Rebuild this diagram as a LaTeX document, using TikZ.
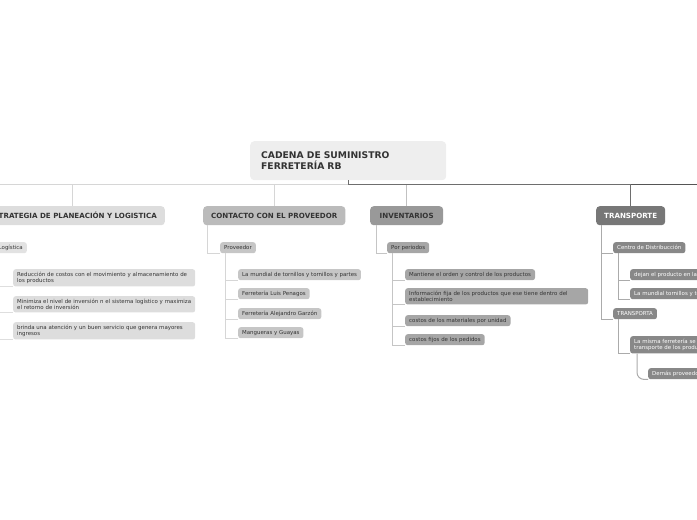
\documentclass[tikz,border=0pt]{standalone}
\usepackage{fontspec}
\setmainfont{DejaVu Sans}
\definecolor{ink}{HTML}{333333}
\definecolor{rootfill}{HTML}{EEEEEE}
\definecolor{estfill}{HTML}{DDDDDD}
\definecolor{estsub}{HTML}{E2E2E2}
\definecolor{confill}{HTML}{BBBBBB}
\definecolor{consub}{HTML}{C6C6C6}
\definecolor{invfill}{HTML}{999999}
\definecolor{invsub}{HTML}{A6A6A6}
\definecolor{trafill}{HTML}{777777}
\definecolor{trasub}{HTML}{888888}
\definecolor{lightline}{HTML}{D6D6D6}
\definecolor{darkline}{HTML}{555555}
\begin{document}
\begin{tikzpicture}[x=1pt, y=-1pt,
  box/.style = {rounded corners=2.5pt, inner xsep=4pt, inner ysep=2.6pt, align=left, text=ink,
    font=\fontsize{5.45}{6.6}\selectfont, minimum height=11pt},
  root/.style = {box, rounded corners=4pt, fill=rootfill, inner xsep=11pt, text width=174pt,
    minimum height=39pt, font=\fontsize{9.2}{11}\selectfont\bfseries, anchor=north west},
  topic/.style = {box, rounded corners=3.5pt, inner xsep=8pt, minimum height=19pt,
    font=\fontsize{7.1}{8}\selectfont\bfseries},
  leaf/.style = {box, anchor=north west},
  wide/.style = {leaf, text width=174pt},
  con/.style = {line width=1pt}]
  \useasboundingbox (0,0) rectangle (697,520);
  \clip (0,0) rectangle (697,520);
  % central topic
  \node[root] (root) at (250,141) {CADENA DE SUMINISTRO\\FERRETERÍA RB};
  % main topics
  \node[topic, fill=estfill, anchor=north east] (est) at (165,206) {ESTRATEGIA DE PLANEACIÓN Y LOGISTICA};
  \node[topic, fill=confill, anchor=north west] (con) at (203,206) {CONTACTO CON EL PROVEEDOR};
  \node[topic, fill=invfill, anchor=north west, inner xsep=9.5pt] (inv) at (370,206) {INVENTARIOS};
  \node[topic, fill=trafill, text=white, anchor=north west] (tra) at (596,206) {TRANSPORTE};
  \coordinate (offl) at (0,184.5);
  \coordinate (offr) at (697,184.5);
  % estrategia
  \node[box, fill=estsub, anchor=north east] (logi) at (27,242) {Logística};
  \node[wide, fill=estfill] (red) at (13,269) {Reducción de costos con el movimiento y almacenamiento de\\los productos};
  \node[wide, fill=estfill] (mini) at (13,296) {Minimiza el nivel de inversión n el sistema logístico y maximiza\\el retorno de inversión};
  \node[wide, fill=estfill] (brin) at (13,322) {brinda una atención y un buen servicio que genera mayores\\ingresos};
  % contacto
  \node[leaf, fill=consub] (prov) at (220,242) {Proveedor};
  \node[leaf, fill=consub] (mund) at (238,269) {La mundial de tornillos y tornillos y partes};
  \node[leaf, fill=consub] (luis) at (238,288) {Ferretería Luis Penagos};
  \node[leaf, fill=consub] (gar) at (238,308) {Ferretería Alejandro Garzón};
  \node[leaf, fill=consub] (mang) at (238,327) {Mangueras y Guayas};
  % inventarios
  \node[leaf, fill=invsub] (per) at (387,242) {Por periodos};
  \node[leaf, fill=invsub] (mant) at (405,269) {Mantiene el orden y control de los productos};
  \node[wide, fill=invsub, text width=175pt] (info) at (405,288) {Información fija de los productos que ese tiene dentro del\\establecimiento};
  \node[leaf, fill=invsub] (cmat) at (405,315) {costos de los materiales por unidad};
  \node[leaf, fill=invsub] (cfij) at (405,334) {costos fijos de los pedidos};
  % transporte
  \node[leaf, fill=trasub, text=white] (cen) at (613,242) {Centro de Distribucción};
  \node[leaf, fill=trasub, text=white] (dej) at (630,269) {dejan el producto en la ferretería};
  \node[leaf, fill=trasub, text=white] (tmun) at (630,288) {La mundial tornillos y tornillos y partes};
  \node[leaf, fill=trasub, text=white] (tpa) at (613,308) {TRANSPORTA};
  \node[leaf, fill=trasub, text=white] (mis) at (630,336) {La misma ferretería se encarga del\\transporte de los productos};
  \node[leaf, fill=trasub, text=white] (dem) at (648,368) {Demás proveedores};
  % connectors from the centre
  \draw[con, lightline] (root.south) |- (offl);
  \draw[con, lightline] (root.south) |- (est.north |- offl) -- (est.north);
  \draw[con, lightline] (root.south) |- (con.north |- offl) -- (con.north);
  \draw[con, lightline!90!black] (root.south) |- (inv.north |- offl) -- (inv.north);
  \draw[con, darkline] (root.south) |- (offr);
  \draw[con, darkline!85!white] (root.south) |- (tra.north |- offr) -- (tra.north);
  % branch connectors
  \draw[con, lightline] ([xshift=5pt]est.south west) |- (logi.south west);
  \foreach \n in {red, mini, brin}
    \draw[con, lightline!80!white] ([xshift=5pt]logi.south west) |- (\n.south west);
  \draw[con, lightline] ([xshift=4pt]con.south west) |- (prov.south west);
  \foreach \n in {mund, luis, gar, mang}
    \draw[con, lightline] ([xshift=5pt]prov.south west) |- (\n.south west);
  \draw[con, lightline!92!black] ([xshift=6pt]inv.south west) |- (per.south west);
  \foreach \n in {mant, info, cmat, cfij}
    \draw[con, lightline!92!black] ([xshift=5pt]per.south west) |- (\n.south west);
  \draw[con, lightline!80!black] ([xshift=5pt]tra.south west) |- (cen.south west);
  \draw[con, lightline!80!black] ([xshift=5pt]tra.south west) |- (tpa.south west);
  \foreach \n in {dej, tmun}
    \draw[con, lightline!80!black] ([xshift=5pt]cen.south west) |- (\n.south west);
  \draw[con, lightline!80!black] ([xshift=5pt]tpa.south west) |- (mis.south west);
  \draw[con, lightline!80!black, rounded corners=7pt] ([xshift=7pt]mis.south west) |- (dem.south west);
\end{tikzpicture}
\end{document}
